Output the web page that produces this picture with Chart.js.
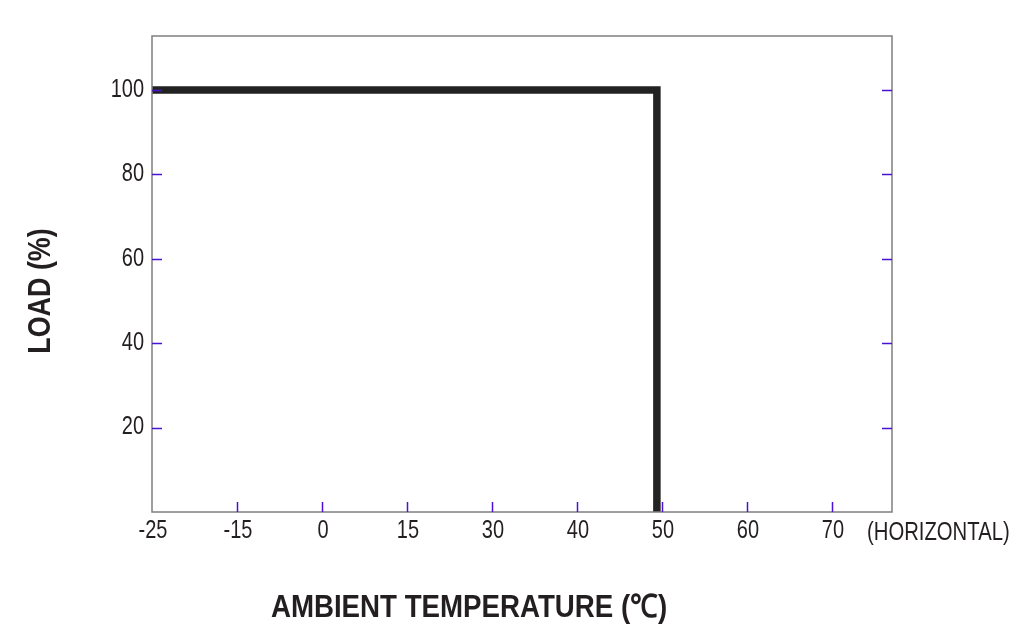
<!DOCTYPE html>
<html>
<head>
<meta charset="utf-8">
<script src="https://cdn.jsdelivr.net/npm/chart.js@4"></script>
<style>
  html, body { margin: 0; padding: 0; background: #fff; }
  #wrap { width: 1018px; height: 632px; }
</style>
</head>
<body>
<div id="wrap"><canvas id="myChart" width="1018" height="632"></canvas></div>
<script>
// tick labels of the temperature axis (equally spaced, not proportional)
const tempLabels = ["-25", "-15", "0", "15", "30", "40", "50", "60", "70"];
// derating curve: position on the temperature axis (label index) and load %
const curveX = [0, 5.94, 5.94];
const curveY = [100, 100, 0];
const loadTicks = [20, 40, 60, 80, 100];

const FONT = "'Liberation Sans', Arial, sans-serif";
const TEXT = "#231f20";
const TICK = "#4b12d6";

const ctx = document.querySelector("#myChart").getContext("2d");

// texte "étroit" : on compresse horizontalement (pas de police narrow dispo)
function narrowText(c, txt, x, y, size, bold, sx, align) {
  c.save();
  c.translate(x, y);
  c.scale(sx, 1);
  c.font = (bold ? "bold " : "") + size + "px " + FONT;
  c.textAlign = align;
  c.textBaseline = "middle";
  c.fillText(txt, 0, 0);
  c.restore();
}

// graduations à l'intérieur du cadre + tous les textes
const decor = {
  id: "decor",
  afterDraw(chart) {
    const c = chart.ctx;
    const a = chart.chartArea;
    const x = chart.scales.x;
    const y = chart.scales.y;
    c.save();
    // frame
    c.strokeStyle = "#7f7f7f";
    c.lineWidth = 1.5;
    c.strokeRect(a.left, a.top, a.right - a.left, a.bottom - a.top);
    // inner ticks
    c.strokeStyle = TICK;
    c.lineWidth = 1.5;
    c.beginPath();
    for (let i = 1; i < tempLabels.length; i++) {
      const px = Math.round(x.getPixelForValue(i)) + 0.5;
      c.moveTo(px, a.bottom);
      c.lineTo(px, a.bottom - 10);
    }
    loadTicks.forEach((v) => {
      const py = Math.round(y.getPixelForValue(v)) + 0.5;
      c.moveTo(a.left, py);
      c.lineTo(a.left + 10, py);
      c.moveTo(a.right, py);
      c.lineTo(a.right - 10, py);
    });
    c.stroke();
    c.fillStyle = TEXT;
    // tick labels
    tempLabels.forEach((lab, i) => {
      narrowText(c, lab, x.getPixelForValue(i) + 1, a.bottom + 19, 25, false, 0.8, "center");
    });
    loadTicks.forEach((v) => {
      narrowText(c, String(v), a.left - 8, y.getPixelForValue(v), 25, false, 0.8, "right");
    });
    narrowText(c, "(HORIZONTAL)", 867, 533, 26, false, 0.78, "left");
    // axis titles
    narrowText(c, "AMBIENT TEMPERATURE (\u2103)", 469, 608, 32, true, 0.865, "center");
    c.translate(41, 291);
    c.rotate(-Math.PI / 2);
    narrowText(c, "LOAD (%)", 0, 0, 32, true, 0.84, "center");
    c.restore();
  },
};

const chartLine = new Chart(ctx, {
  type: "line",
  data: {
    datasets: [
      {
        data: curveX.map((v, i) => ({ x: v, y: curveY[i] })),
        borderColor: "#222222",
        borderWidth: 7.5,
        borderJoinStyle: "miter",
        borderCapStyle: "butt",
        pointRadius: 0,
        tension: 0,
        fill: false,
        clip: false,
      },
    ],
  },
  options: {
    responsive: false,
    animation: false,
    layout: { padding: { top: 36, right: 126, left: 0, bottom: 0 } },
    plugins: { legend: { display: false }, tooltip: { enabled: false } },
    scales: {
      x: {
        type: "linear",
        min: 0,
        max: 8.706,
        afterFit(scale) { scale.height = 120; },
        grid: { display: false },
        border: { display: false },
        ticks: { display: false, stepSize: 1 },
      },
      y: {
        min: 0,
        max: 112.8,
        afterFit(scale) { scale.width = 152; },
        grid: { display: false },
        border: { display: false },
        ticks: { display: false, stepSize: 20 },
      },
    },
  },
  plugins: [decor],
});
</script>
</body>
</html>
